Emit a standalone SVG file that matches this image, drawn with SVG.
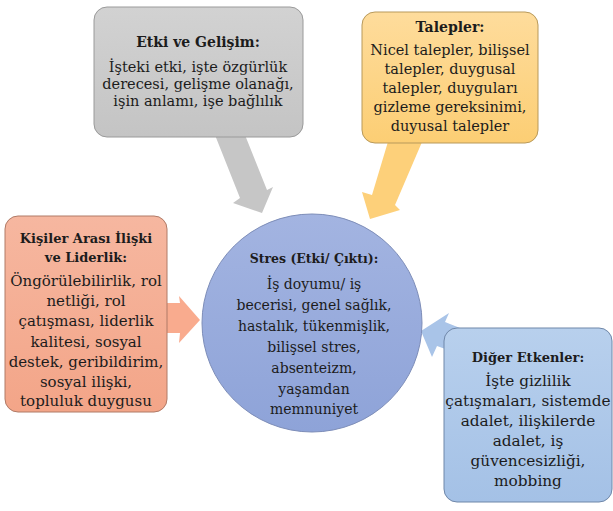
<svg xmlns="http://www.w3.org/2000/svg" width="613" height="511" viewBox="0 0 613 511">
<defs>
<linearGradient id="gGray" x1="0" y1="0" x2="0" y2="1"><stop offset="0" stop-color="#d2d2d2"/><stop offset="1" stop-color="#c4c4c4"/></linearGradient>
<linearGradient id="gYel" x1="0" y1="0" x2="0" y2="1"><stop offset="0" stop-color="#fedc9c"/><stop offset="1" stop-color="#fcce74"/></linearGradient>
<linearGradient id="gOr" x1="0" y1="0" x2="0" y2="1"><stop offset="0" stop-color="#f6b7a0"/><stop offset="1" stop-color="#f3a588"/></linearGradient>
<linearGradient id="gCir" x1="0" y1="0" x2="0" y2="1"><stop offset="0" stop-color="#a3b4e1"/><stop offset="1" stop-color="#8ea3d8"/></linearGradient>
<linearGradient id="gBlue" x1="0" y1="0" x2="0" y2="1"><stop offset="0" stop-color="#b8d0ed"/><stop offset="1" stop-color="#a4c1e6"/></linearGradient>
</defs>
<style>
text{font-family:'DejaVu Serif',serif;font-size:14px;fill:#1c1c1c;text-anchor:middle}
.t{font-weight:bold}
.box{stroke-width:1}
#node-etki text,#node-talepler text{font-size:14.5px}
#node-kisiler text{font-size:15px}
#node-diger text{font-size:15.3px}
#node-etki .t{font-size:14px}
#node-talepler .t{font-size:14px}
#node-kisiler .t{font-size:13px}
#node-stres .t{font-size:12.5px}
#node-diger .t{font-size:13px}
</style>
<rect width="613" height="511" fill="#ffffff"/>
<g id="connectors">
<polygon fill="#c6c6c6" points="213,130 243,130 267,190 273,187 262,213 233,203 240,198"/>
<polygon fill="#fdd07a" points="390,135 425,135 395,205 400,210 370,219 362,192 372,195"/>
<polygon fill="#f9ab8e" points="160,303 180,303 179,296 200,320 179,343 180,333 160,333"/>
<polygon fill="#a9c4e8" points="421,331 449,313 445,322 470,332 462,355 437,346 432,357"/>
</g>
<g id="node-etki">
<rect class="box" x="94" y="7" width="209" height="130" rx="13" fill="url(#gGray)" stroke="#9a9a9a"/>
<text class="t" x="198" y="47">Etki ve Gelişim:</text>
<text x="198" y="72">İşteki etki, işte özgürlük</text>
<text x="198" y="89">derecesi, gelişme olanağı,</text>
<text x="198" y="106">işin anlamı, işe bağlılık</text>
</g>
<g id="node-talepler">
<rect class="box" x="362" y="12" width="176" height="131" rx="13" fill="url(#gYel)" stroke="#b8995a"/>
<text class="t" x="450" y="32">Talepler:</text>
<text x="450" y="55">Nicel talepler, bilişsel</text>
<text x="450" y="74">talepler, duygusal</text>
<text x="450" y="93">talepler, duyguları</text>
<text x="450" y="112">gizleme gereksinimi,</text>
<text x="450" y="131">duyusal talepler</text>
</g>
<g id="node-kisiler">
<rect class="box" x="5" y="216" width="162" height="196" rx="13" fill="url(#gOr)" stroke="#b07a66"/>
<text class="t" x="86" y="243">Kişiler Arası İlişki</text>
<text class="t" x="86" y="262">ve Liderlik:</text>
<text x="86" y="286">Öngörülebilirlik, rol</text>
<text x="86" y="306">netliği, rol</text>
<text x="86" y="326">çatışması, liderlik</text>
<text x="86" y="347">kalitesi, sosyal</text>
<text x="86" y="367">destek, geribildirim,</text>
<text x="86" y="387">sosyal ilişki,</text>
<text x="86" y="406">topluluk duygusu</text>
</g>
<g id="node-stres">
<ellipse cx="312" cy="323" rx="110" ry="109" fill="url(#gCir)" stroke="#7d8db8"/>
<text class="t" x="314" y="263">Stres (Etki/ Çıktı):</text>
<text x="314" y="289">İş doyumu/ iş</text>
<text x="314" y="310">becerisi, genel sağlık,</text>
<text x="314" y="331">hastalık, tükenmişlik,</text>
<text x="314" y="352">bilişsel stres,</text>
<text x="314" y="373">absenteizm,</text>
<text x="314" y="394">yaşamdan</text>
<text x="314" y="414">memnuniyet</text>
</g>
<g id="node-diger">
<rect class="box" x="444" y="328" width="168" height="174" rx="13" fill="url(#gBlue)" stroke="#6f87a9"/>
<text class="t" x="528" y="362">Diğer Etkenler:</text>
<text x="528" y="386">İşte gizlilik</text>
<text x="528" y="406">çatışmaları, sistemde</text>
<text x="528" y="426">adalet, ilişkilerde</text>
<text x="528" y="446">adalet, iş</text>
<text x="528" y="466">güvencesizliği,</text>
<text x="528" y="486">mobbing</text>
</g>
</svg>
